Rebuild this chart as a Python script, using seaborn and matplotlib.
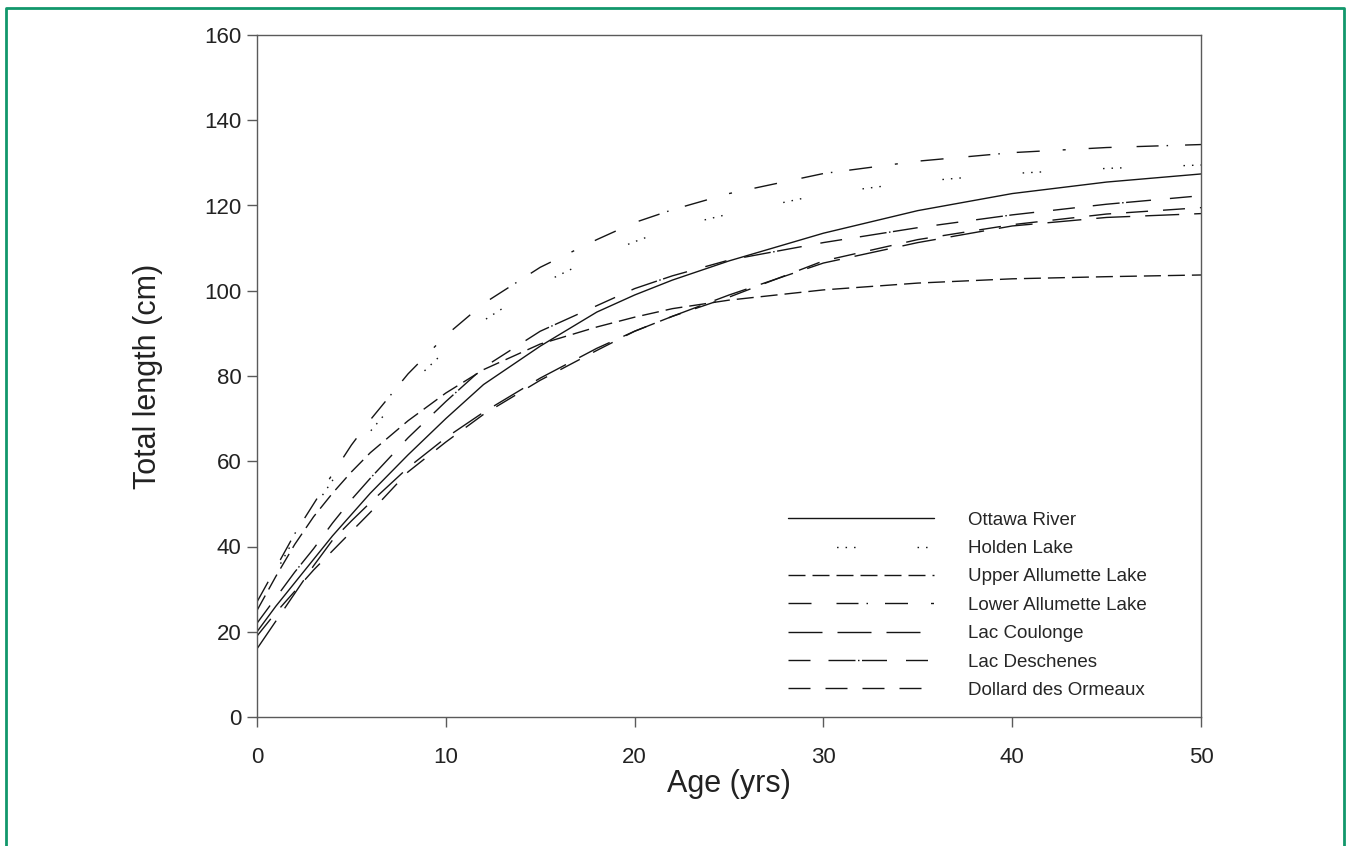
import matplotlib
matplotlib.use("Agg")
import matplotlib.pyplot as plt
import seaborn as sns
from matplotlib.lines import Line2D

# growth curves (total length, cm)
ages = [0, 1, 2, 3, 4, 5, 6, 8, 10, 12, 15, 18, 20, 22, 25, 30, 35, 40, 45, 50]

ottawa_river    = [20, 26, 31.5, 37, 42.5, 47.5, 52.5, 61.5, 70, 78, 87, 95, 99, 102.5, 107, 113.5, 118.8, 122.8, 125.5, 127.4]
holden_lake     = [26, 34, 42, 49, 55.5, 61.5, 67, 77.5, 86, 93, 101.5, 108, 111.5, 114.8, 118, 122.7, 125.6, 127.5, 128.7, 129.5]
upper_allumette = [25, 33, 40.5, 47, 52.5, 57.5, 62, 69.5, 76, 81.5, 87.5, 91.5, 93.8, 95.8, 97.8, 100.2, 101.8, 102.8, 103.3, 103.7]
lower_allumette = [27, 35, 43, 50, 57, 63.8, 69.7, 80.5, 89.5, 97, 105.5, 112, 116, 119, 122.8, 127.5, 130.4, 132.4, 133.6, 134.3]
lac_coulonge    = [16, 22.5, 29, 35.5, 41.5, 46, 50.3, 58.5, 65.5, 71.5, 79.5, 86.5, 90.5, 94, 99, 106.5, 111.3, 115.2, 117.2, 118.1]
lac_deschenes   = [22, 28, 34, 39.5, 45.5, 51, 56, 65.5, 74, 82, 90.5, 96.5, 100.5, 103.5, 107.2, 111.3, 114.8, 117.8, 120.3, 122.3]
dollard         = [19, 24.5, 29.5, 34.5, 39, 43.5, 48, 57.5, 64.5, 71, 79, 86, 90.5, 94, 98.5, 107, 112, 115.5, 118, 119.5]

lakes = ["Ottawa River", "Holden Lake", "Upper Allumette Lake", "Lower Allumette Lake",
         "Lac Coulonge", "Lac Deschenes", "Dollard des Ormeaux"]
series = [ottawa_river, holden_lake, upper_allumette, lower_allumette,
          lac_coulonge, lac_deschenes, dollard]

# dash patterns, given in pixels and turned into points
def px(seq):
    return tuple(v * 0.72 for v in seq)

styles = {
    "Ottawa River": "-",
    "Holden Lake": (23, px([1.5, 7, 1.5, 7, 1.5, 62])),
    "Upper Allumette Lake": (0, px([17, 7])),
    "Lower Allumette Lake": (0, px([23, 25, 22, 8, 1.5, 17, 23, 23, 3, 23])),
    "Lac Coulonge": (0, px([34, 15])),
    "Lac Deschenes": (0, px([22, 18, 27, 2.5, 1.5, 2.5, 25, 19])),
    "Dollard des Ormeaux": (0, px([22, 15])),
}

sns.set_style("ticks")
plt.rcParams["font.family"] = ["Liberation Sans", "DejaVu Sans"]
plt.rcParams["lines.scale_dashes"] = False

fig = plt.figure(figsize=(13.48, 8.46), dpi=100)
ax = fig.add_axes([257 / 1348, 129 / 846, 944 / 1348, 682 / 846])

for name, vals in zip(lakes, series):
    sns.lineplot(x=ages, y=vals, ax=ax, color="#151515", lw=1.0,
                 linestyle=styles[name], label=name, legend=False)

ax.set_xlim(0, 50)
ax.set_ylim(0, 160)
ax.set_xticks(range(0, 51, 10))
ax.set_yticks(range(0, 161, 20))
for side in ["left", "right", "top", "bottom"]:
    ax.spines[side].set_visible(True)
    ax.spines[side].set_color("#5a5a5a")
    ax.spines[side].set_linewidth(1.0)
ax.tick_params(direction="out", length=7, width=1, color="#5a5a5a",
               labelsize=16, labelcolor="#222222")
ax.tick_params(axis="x", pad=14.5)
ax.tick_params(axis="y", pad=4)

ax.set_xlabel("Age (yrs)", fontsize=22, color="#222222")
ax.set_ylabel("Total length (cm)", fontsize=22, color="#222222")
ax.xaxis.set_label_coords(0.5, -0.076)
ax.yaxis.set_label_coords(-0.0996, 0.5)

ax.legend(loc="upper left", bbox_to_anchor=(0.5625, 0.3012), frameon=False,
          fontsize=13.5, handlelength=7.8, handletextpad=1.8, labelspacing=0.6,
          borderpad=0, borderaxespad=0)

# green frame around the figure (open at the bottom)
fig.add_artist(Line2D([6 / 1348, 6 / 1348, 1344 / 1348, 1344 / 1348],
                      [0, 1 - 8 / 846, 1 - 8 / 846, 0],
                      transform=fig.transFigure, color="#12976b", lw=2))

plt.savefig("out.png", dpi=100)
